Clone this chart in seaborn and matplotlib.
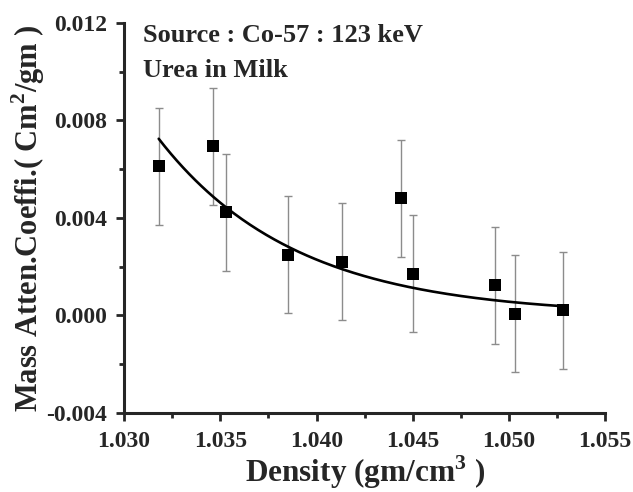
import numpy as np
import matplotlib
matplotlib.use("Agg")
import matplotlib.pyplot as plt
import seaborn as sns
from matplotlib.ticker import MultipleLocator, FormatStrFormatter

# Density (gm/cm^3) and mass attenuation coefficient (cm^2/gm)
density = [1.0318, 1.0346, 1.0353, 1.0385, 1.0413, 1.0444, 1.0450, 1.0493, 1.0503, 1.0528]
mass_atten = [0.00612, 0.00695, 0.00424, 0.00250, 0.00220, 0.00480, 0.00172, 0.00124, 0.00007, 0.00022]
atten_err = [0.0024, 0.0024, 0.0024, 0.0024, 0.0024, 0.0024, 0.0024, 0.0024, 0.0024, 0.0024]

# exponential decay fit shown in the figure: y = fit_a * exp(-fit_k * (x - x0))
fit_a = 0.00725
fit_k = 140.4

x = np.array(density)
y = np.array(mass_atten)
xf = np.linspace(x[0], x[-1], 200)
yf = fit_a * np.exp(-fit_k * (xf - x[0]))

sns.set_style("ticks")
plt.rcParams['font.family'] = ['Liberation Serif', 'DejaVu Serif']
plt.rcParams['font.weight'] = 'bold'
plt.rcParams['axes.unicode_minus'] = False
plt.rcParams['mathtext.fontset'] = 'custom'
plt.rcParams['mathtext.rm'] = 'Liberation Serif:bold'
plt.rcParams['mathtext.bf'] = 'Liberation Serif:bold'

fig = plt.figure(figsize=(6.33, 4.92), dpi=100)
ax = fig.add_axes([0.196, 0.1606, 0.76, 0.7927])

ax.errorbar(x, y, yerr=atten_err, fmt='none', ecolor='#8c8c8c', elinewidth=1.0,
            capsize=3, capthick=1.0, zorder=2)
sns.lineplot(x=xf, y=yf, ax=ax, color='black', linewidth=1.9, zorder=3)
sns.scatterplot(x=x, y=y, ax=ax, marker='s', s=70, color='black', edgecolor='black',
                linewidth=0, zorder=4)

ax.set_xlim(1.030, 1.055)
ax.set_ylim(-0.004, 0.012)
ax.xaxis.set_major_locator(MultipleLocator(0.005))
ax.xaxis.set_minor_locator(MultipleLocator(0.0025))
ax.yaxis.set_major_locator(MultipleLocator(0.004))
ax.yaxis.set_minor_locator(MultipleLocator(0.002))
ax.xaxis.set_major_formatter(FormatStrFormatter('%.3f'))
ax.yaxis.set_major_formatter(FormatStrFormatter('%.3f'))

sns.despine(ax=ax)
for side in ['left', 'bottom']:
    ax.spines[side].set_linewidth(2.2)
ax.tick_params(which='major', length=6, width=2, labelsize=17)
ax.tick_params(axis='x', which='major', pad=7)
ax.tick_params(axis='y', which='major', pad=6)
ax.tick_params(which='minor', length=3.5, width=2)
for lab in ax.get_xticklabels() + ax.get_yticklabels():
    lab.set_fontweight('bold')

ax.set_xlabel('Density (gm/cm$^{3}$ )', fontsize=22.5, fontweight='bold', labelpad=1)
ax.set_ylabel('Mass Atten.Coeffi.( Cm$^{2}$/gm )', fontsize=22, fontweight='bold', labelpad=0)

ax.text(0.0395, 0.951, 'Source : Co-57 : 123 keV', transform=ax.transAxes, fontsize=19,
        fontweight='bold', va='baseline')
ax.text(0.0395, 0.8615, 'Urea in Milk', transform=ax.transAxes, fontsize=19,
        fontweight='bold', va='baseline')

fig.savefig('out.png', dpi=100)
